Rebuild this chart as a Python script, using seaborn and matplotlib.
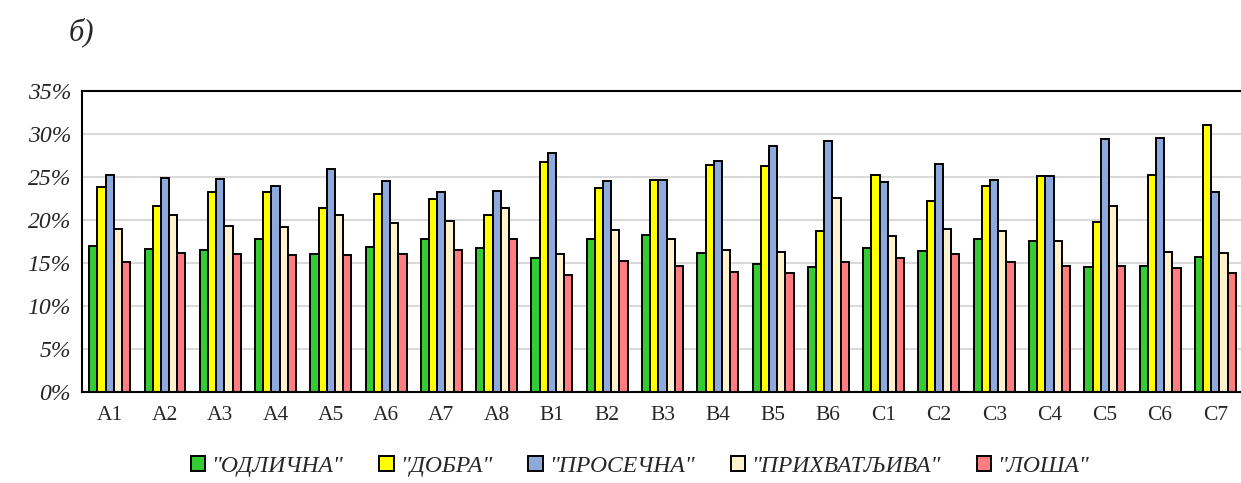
import matplotlib
matplotlib.use("Agg")
import matplotlib.pyplot as plt
import pandas as pd
import seaborn as sns
from matplotlib.ticker import FuncFormatter, MultipleLocator

categories = ["A1", "A2", "A3", "A4", "A5", "A6", "A7", "A8",
              "B1", "B2", "B3", "B4", "B5", "B6",
              "C1", "C2", "C3", "C4", "C5", "C6", "C7"]
series_names = ['"ОДЛИЧНА"', '"ДОБРА"', '"ПРОСЕЧНА"', '"ПРИХВАТЉИВА"', '"ЛОША"']

odlicna = [17.0, 16.6, 16.5, 17.8, 16.1, 16.9, 17.8, 16.8,
           15.6, 17.8, 18.2, 16.2, 14.9, 14.5,
           16.7, 16.4, 17.8, 17.6, 14.5, 14.7, 15.7]
dobra = [23.8, 21.6, 23.2, 23.2, 21.4, 23.0, 22.4, 20.6,
         26.8, 23.7, 24.7, 26.4, 26.3, 18.7,
         25.2, 22.2, 23.9, 25.1, 19.8, 25.2, 31.1]
prosecna = [25.2, 24.9, 24.8, 24.0, 25.9, 24.5, 23.3, 23.4,
            27.8, 24.5, 24.7, 26.9, 28.6, 29.2,
            24.4, 26.5, 24.6, 25.1, 29.4, 29.5, 23.2]
prihvatljiva = [18.9, 20.6, 19.3, 19.2, 20.6, 19.6, 19.9, 21.4,
                16.1, 18.8, 17.8, 16.5, 16.3, 22.5,
                18.1, 19.0, 18.7, 17.6, 21.6, 16.3, 16.2]
losa = [15.1, 16.2, 16.1, 15.9, 15.9, 16.0, 16.5, 17.8,
        13.6, 15.2, 14.6, 14.0, 13.8, 15.1,
        15.6, 16.0, 15.1, 14.6, 14.7, 14.4, 13.8]

colors = ["#33CC33", "#FFFF00", "#8EA9DB", "#FFF2CC", "#FF7C80"]

rows = []
for name, vals in zip(series_names, [odlicna, dobra, prosecna, prihvatljiva, losa]):
    for cat, v in zip(categories, vals):
        rows.append({"cat": cat, "series": name, "value": v})
df = pd.DataFrame(rows)

sns.set_style("white")
plt.rcParams["font.family"] = ["Liberation Serif", "DejaVu Serif"]

fig = plt.figure(figsize=(12.41, 4.83), dpi=100)
ax = fig.add_axes([0.0661, 0.1884, 0.9355, 0.6232])

sns.barplot(data=df, x="cat", y="value", hue="series", order=categories,
            hue_order=series_names, palette=colors, width=0.74,
            edgecolor="black", linewidth=1.4, saturation=1, ax=ax)

ax.set_xlim(-0.5, len(categories) - 0.5)
ax.set_ylim(0, 35)
ax.yaxis.set_major_locator(MultipleLocator(5))
ax.yaxis.set_major_formatter(FuncFormatter(lambda v, p: f"{v:.0f}%"))
ax.grid(axis="y", color="#d9d9d9", linewidth=1.5)
ax.set_axisbelow(True)
ax.set_xlabel("")
ax.set_ylabel("")
for s in ax.spines.values():
    s.set_color("black")
    s.set_linewidth(1.5)
ax.tick_params(axis="both", length=0)
ax.tick_params(axis="x", pad=10, labelsize=15.5)
ax.tick_params(axis="y", pad=8, labelsize=17)
for lab in ax.get_yticklabels():
    lab.set_fontstyle("italic")

ax.legend_.remove()
handles = [plt.Rectangle((0, 0), 1, 1, facecolor=c, edgecolor="black", linewidth=1.4)
           for c in colors]
fig.legend(handles, series_names, loc="center", bbox_to_anchor=(0.516, 0.035),
           ncol=5, frameon=False, handlelength=0.6, handleheight=0.6,
           handletextpad=0.3, columnspacing=1.5,
           prop={"family": ["Liberation Serif"], "style": "italic", "size": 17})

fig.text(0.055, 0.934, "б)", fontsize=22, fontstyle="italic", ha="left", va="center")

fig.savefig("out.png", dpi=100)
